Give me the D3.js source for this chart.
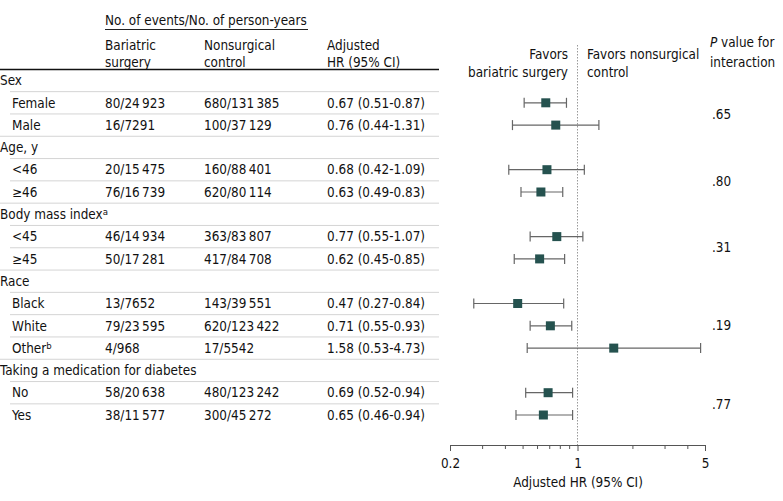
<!DOCTYPE html>
<html>
<head>
<meta charset="utf-8">
<script src="https://cdn.jsdelivr.net/npm/d3@7"></script>
<style>
  html, body { margin: 0; padding: 0; background: #fff; }
  svg text { font-family: "DejaVu Sans Condensed", "DejaVu Sans", sans-serif; font-stretch: condensed; font-size: 13.4px; fill: #111; }
</style>
</head>
<body>
<svg id="chart" width="783" height="501"></svg>
<script>
// ---- data ----
const rowLabels = ["Sex", "Female", "Male", "Age, y", "<46", "\u226546", "Body mass index", "<45", "\u226545",
                   "Race", "Black", "White", "Other", "Taking a medication for diabetes", "No", "Yes"];
const rowIsGroup = [true, false, false, true, false, false, true, false, false, true, false, false, false, true, false, false];
const rowSup = ["", "", "", "", "", "", "a", "", "", "", "", "", "b", "", "", ""];
const bariatricEvents = ["", "80/24\u2009923", "16/7291", "", "20/15\u2009475", "76/16\u2009739", "", "46/14\u2009934", "50/17\u2009281",
                         "", "13/7652", "79/23\u2009595", "4/968", "", "58/20\u2009638", "38/11\u2009577"];
const controlEvents = ["", "680/131\u2009385", "100/37\u2009129", "", "160/88\u2009401", "620/80\u2009114", "", "363/83\u2009807", "417/84\u2009708",
                       "", "143/39\u2009551", "620/123\u2009422", "17/5542", "", "480/123\u2009242", "300/45\u2009272"];
const hrValues = [null, 0.67, 0.76, null, 0.68, 0.63, null, 0.77, 0.62, null, 0.47, 0.71, 1.58, null, 0.69, 0.65];
const ciLower  = [null, 0.51, 0.44, null, 0.42, 0.49, null, 0.55, 0.45, null, 0.27, 0.55, 0.53, null, 0.52, 0.46];
const ciUpper  = [null, 0.87, 1.31, null, 1.09, 0.83, null, 1.07, 0.85, null, 0.84, 0.93, 4.73, null, 0.94, 0.94];
const pValues = [".65", ".80", ".31", ".19", ".77"];
const pValueRows = [[1, 2], [4, 5], [7, 8], [10, 11, 12], [14, 15]];
const majorTicks = [0.2, 1, 5];
const minorTicks = [0.3, 0.4, 0.5, 0.6, 0.7, 0.8, 0.9, 2, 3, 4];
const tickLabels = ["0.2", "1", "5"];

// ---- layout ----
const svg = d3.select("#chart");
const rowY = d3.scaleLinear().domain([0, 15]).range([80.5, 415]);
const x = d3.scaleLog().domain([0.2, 5]).range([450, 705]);
const colX = { label: 0, sub: 12, bar: 105, ctl: 204, hr: 327 };
const tableRight = 439;
const fmt = d3.format(".2f");

// headers
const hdr = svg.append("g");
hdr.append("text").attr("x", colX.bar).attr("y", 20).attr("dy", "0.35em").text("No. of events/No. of person-years");
hdr.append("line").attr("x1", colX.bar).attr("x2", 308).attr("y1", 29.5).attr("y2", 29.5).attr("stroke", "#222").attr("stroke-width", 1);
[["Bariatric", "surgery", colX.bar], ["Nonsurgical", "control", colX.ctl], ["Adjusted", "HR (95% CI)", colX.hr]].forEach(([a, b, xx]) => {
  hdr.append("text").attr("x", xx).attr("y", 45).attr("dy", "0.35em").text(a);
  hdr.append("text").attr("x", xx).attr("y", 62).attr("dy", "0.35em").text(b);
});
hdr.append("line").attr("x1", 0).attr("x2", tableRight).attr("y1", 69.5).attr("y2", 69.5).attr("stroke", "#111").attr("stroke-width", 1.5);

// favors labels
hdr.append("text").attr("x", 568).attr("y", 54).attr("dy", "0.35em").attr("text-anchor", "end").text("Favors");
hdr.append("text").attr("x", 568).attr("y", 72).attr("dy", "0.35em").attr("text-anchor", "end").text("bariatric surgery");
hdr.append("text").attr("x", 587).attr("y", 54).attr("dy", "0.35em").text("Favors nonsurgical");
hdr.append("text").attr("x", 587).attr("y", 72).attr("dy", "0.35em").text("control");
const pv = hdr.append("text").attr("x", 710).attr("y", 42).attr("dy", "0.35em");
pv.append("tspan").attr("font-style", "italic").text("P");
pv.append("tspan").text(" value for");
hdr.append("text").attr("x", 710).attr("y", 62).attr("dy", "0.35em").text("interaction");

// separators
const seps = svg.append("g");
for (let i = 0; i < rowLabels.length - 1; i++) {
  const yy = (rowY(i) + rowY(i + 1)) / 2;
  const startX = rowIsGroup[i + 1] ? 0 : 10;
  seps.append("line").attr("x1", startX).attr("x2", tableRight).attr("y1", yy).attr("y2", yy)
    .attr("stroke", "#d4d4d4").attr("stroke-width", 1);
}

// table rows
const rows = svg.append("g").selectAll("g").data(rowLabels).join("g")
  .attr("transform", (d, i) => `translate(0,${rowY(i)})`);
rows.each(function (d, i) {
  const g = d3.select(this);
  const t = g.append("text").attr("x", rowIsGroup[i] ? colX.label : colX.sub).attr("dy", "0.35em");
  t.append("tspan").text(d);
  if (rowSup[i]) t.append("tspan").attr("dy", "-0.45em").attr("font-size", "9.5px").text(rowSup[i]);
  if (!rowIsGroup[i]) {
    g.append("text").attr("x", colX.bar).attr("dy", "0.35em").text(bariatricEvents[i]);
    g.append("text").attr("x", colX.ctl).attr("dy", "0.35em").text(controlEvents[i]);
    g.append("text").attr("x", colX.hr).attr("dy", "0.35em")
      .text(`${fmt(hrValues[i])} (${fmt(ciLower[i])}-${fmt(ciUpper[i])})`);
  }
});

// reference line
svg.append("line").attr("x1", x(1)).attr("x2", x(1)).attr("y1", 45).attr("y2", 445)
  .attr("stroke", "#999").attr("stroke-width", 1).attr("stroke-dasharray", "1.5,1.5");

// forest marks
const forest = svg.append("g");
hrValues.forEach((v, i) => {
  if (v == null) return;
  const yy = rowY(i);
  forest.append("line").attr("x1", x(ciLower[i])).attr("x2", x(ciUpper[i])).attr("y1", yy).attr("y2", yy)
    .attr("stroke", "#666").attr("stroke-width", 1.2);
  [ciLower[i], ciUpper[i]].forEach(c => {
    forest.append("line").attr("x1", x(c)).attr("x2", x(c)).attr("y1", yy - 5).attr("y2", yy + 5)
      .attr("stroke", "#666").attr("stroke-width", 1.2);
  });
  const s = 9;
  forest.append("rect").attr("x", x(v) - s / 2).attr("y", yy - s / 2).attr("width", s).attr("height", s)
    .attr("fill", "#25524f");
});

// p values
pValues.forEach((p, k) => {
  const idx = pValueRows[k];
  const yy = d3.mean(idx, i => rowY(i));
  svg.append("text").attr("x", 712).attr("y", yy).attr("dy", "0.35em").text(p);
});

// axis
const axisY = 445;
const axMinor = svg.append("g").attr("transform", `translate(0,${axisY})`)
  .call(d3.axisBottom(x).tickValues(minorTicks).tickSize(4).tickFormat(""));
axMinor.select(".domain").remove();
const axMajor = svg.append("g").attr("transform", `translate(0,${axisY})`)
  .call(d3.axisBottom(x).tickValues(majorTicks).tickSize(6).tickSizeOuter(0)
    .tickFormat((d, i) => tickLabels[i]));
svg.selectAll(".tick line, .domain").attr("stroke", "#555");
axMajor.selectAll(".tick text").attr("font-size", null).attr("font-family", null).attr("dy", null).attr("y", 18).attr("dominant-baseline", "central");
axMajor.attr("font-size", null).attr("font-family", null);
axMinor.attr("font-size", null).attr("font-family", null);
svg.append("text").attr("x", 578).attr("y", 482).attr("dy", "0.35em").attr("text-anchor", "middle").text("Adjusted HR (95% CI)");
</script>
</body>
</html>
